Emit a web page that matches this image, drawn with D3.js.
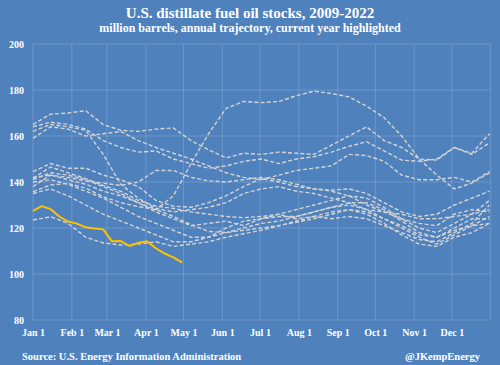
<!DOCTYPE html>
<html>
<head>
<meta charset="utf-8">
<script src="https://cdn.jsdelivr.net/npm/d3@7"></script>
<style>
  body { margin: 0; background: #4f81bd; }
  svg { display: block; }
  text { font-family: "Liberation Serif", "DejaVu Serif", serif; font-weight: bold; fill: #ffffff; }
</style>
</head>
<body>
<svg id="mainSvg" width="500" height="365"></svg>
<script>
// day of year for each sample (every two weeks)
const days = [0, 14, 28, 42, 56, 70, 84, 98, 112, 126, 140, 154, 168, 182, 196, 210, 224, 238, 252, 266, 280, 294, 308, 322, 336, 350, 364];

// past years, million barrels
const pastYears = [
    {year: 2010, values: [165, 169.5, 170, 171, 165, 162.5, 162, 163, 163.5, 158, 154, 150.5, 152.5, 152, 153, 152.5, 152, 156, 160, 164, 158, 155, 150, 149.5, 155, 152.5, 161]},
    {year: 2011, values: [164, 166, 165, 163, 158, 155, 153, 153.5, 150, 148, 146, 147, 149, 150, 148, 150, 151, 153, 155.5, 157.5, 153.5, 149.5, 149, 150, 155, 152, 157]},
    {year: 2021, values: [162, 165, 164, 162.5, 152, 139, 133, 128.5, 127, 128, 129, 131, 135, 137, 138, 136, 135, 133, 131, 128, 127, 126, 124, 124, 125, 126, 128]},
    {year: 2017, values: [159, 164, 163, 160, 161, 162, 158, 155, 152.5, 150, 147, 144, 142, 141, 143, 145, 146, 147, 152, 151.5, 149, 143, 141, 141, 142, 140, 144.5]},
    {year: 2020, values: [141, 144, 143, 141, 138, 135, 131, 128, 134, 148, 161, 172, 175, 174.5, 175, 177.5, 179.5, 178.5, 177, 173, 168, 160, 150, 143, 137, 139.5, 144]},
    {year: 2009, values: [144.5, 148, 146, 146, 143, 141, 138, 132, 129.5, 129, 131, 134, 138, 141.5, 140, 138, 137, 136.5, 137, 135, 131, 127, 125, 126, 130, 133, 136]},
    {year: 2019, values: [141.6, 146.5, 144, 141.5, 138.5, 136, 132, 129.5, 128.5, 127, 126, 125, 124.5, 125, 126, 128, 130, 132, 134, 133, 129, 124, 120, 118, 122, 126, 132]},
    {year: 2015, values: [138, 143, 142, 140.5, 139.5, 138.5, 140, 145, 145, 142, 140.5, 140, 141, 142, 141, 139, 137, 136, 134, 130, 127, 124, 122, 121, 126, 128, 127]},
    {year: 2018, values: [135.8, 138.7, 139.4, 137.3, 133.6, 131, 129.3, 128, 125, 121.5, 118.5, 118, 119, 120, 121, 122.5, 124, 126, 128, 127, 124, 121, 117, 116, 120, 124, 124]},
    {year: 2012, values: [140, 141, 139, 136, 133, 129, 125, 122, 119, 116, 116, 118, 120, 122, 123, 125, 127, 129, 131, 131, 128, 123, 118, 116, 119, 121, 125]},
    {year: 2013, values: [135, 137, 134, 130, 126, 123, 120, 117, 114, 114, 116, 120, 123, 124, 125, 125, 127, 129, 130, 128, 124, 120, 116, 113, 117, 121, 122]},
    {year: 2014, values: [123.5, 124.9, 122, 116, 113.5, 112.6, 113, 114, 112, 113, 114, 116, 117.5, 119, 121, 123, 125, 127, 128, 126, 122, 117, 113, 112, 116, 118, 122]},
    {year: 2016, values: [142, 143, 141, 139, 136, 134, 131, 127, 124, 121, 122, 123, 121, 124, 126, 124, 125, 124, 125, 124, 121, 118, 115, 114, 118, 122, 130]}
];

// current year, weekly
const currentDays = [0, 7, 14, 21, 28, 35, 42, 49, 56, 63, 70, 77, 84, 91, 98, 105, 112, 119];
const currentValues = [127.4, 129.5, 128.2, 125, 122.8, 121.9, 120.3, 119.8, 119.4, 114.2, 114.3, 112.2, 113.6, 114.2, 111.2, 108.9, 107.2, 104.9];

const monthDays = [0, 31, 59, 90, 120, 151, 181, 212, 243, 273, 304, 334];
const monthLabels = ["Jan 1", "Feb 1", "Mar 1", "Apr 1", "May 1", "Jun 1", "Jul 1", "Aug 1", "Sep 1", "Oct 1", "Nov 1", "Dec 1"];
const yTicks = [80, 100, 120, 140, 160, 180, 200];

let svg = d3.select('#mainSvg');
const plotLeft = 33, plotRight = 490.7, plotTop = 44, plotBottom = 320;

const x = d3.scaleLinear().domain([0, 365]).range([plotLeft, plotRight]);
const y = d3.scaleLinear().domain([80, 200]).range([plotBottom, plotTop]);

// title
svg.append("text")
    .text("U.S. distillate fuel oil stocks, 2009-2022")
    .attr("x", 250).attr("y", 18)
    .attr("text-anchor", "middle")
    .attr("font-size", "15px");
svg.append("text")
    .text("million barrels, annual trajectory, current year highlighted")
    .attr("x", 250).attr("y", 32)
    .attr("text-anchor", "middle")
    .attr("font-size", "12px");

// grid
const grid = svg.append("g").attr("stroke", "#ffffff").attr("stroke-opacity", 0.17).attr("stroke-width", 1);
grid.selectAll("line.h").data(yTicks).join("line")
    .attr("class", "h")
    .attr("x1", plotLeft).attr("x2", plotRight)
    .attr("y1", d => y(d)).attr("y2", d => y(d));
grid.selectAll("line.v").data(monthDays.concat([365])).join("line")
    .attr("class", "v")
    .attr("x1", d => x(d)).attr("x2", d => x(d))
    .attr("y1", plotTop).attr("y2", plotBottom);

// axes
const yAxis = svg.append("g")
    .attr("transform", `translate(${plotLeft},0)`)
    .call(d3.axisLeft(y).tickValues(yTicks).tickSize(0).tickPadding(9).tickFormat(d3.format("d")));
yAxis.select(".domain").remove();
yAxis.selectAll("text").attr("font-size", "10px").attr("fill", "#ffffff");

const xAxis = svg.append("g")
    .attr("transform", `translate(0,${plotBottom})`)
    .call(d3.axisBottom(x).tickValues(monthDays).tickSize(0).tickPadding(9).tickFormat((d, i) => monthLabels[i]));
xAxis.select(".domain").remove();
xAxis.selectAll("text").attr("font-size", "10px").attr("fill", "#ffffff");

// lines
const line = d3.line()
    .x(d => x(d[0]))
    .y(d => y(d[1]));

svg.append("g").selectAll("path").data(pastYears).join("path")
    .attr("d", d => line(d.values.map((v, i) => [days[i], v])))
    .attr("fill", "none")
    .attr("stroke", "#d4d4d4")
    .attr("stroke-width", 1.4)
    .attr("stroke-dasharray", "4,2.2");

svg.append("path")
    .attr("d", line(currentValues.map((v, i) => [currentDays[i], v])))
    .attr("fill", "none")
    .attr("stroke", "#ffc000")
    .attr("stroke-width", 2)
    .attr("stroke-linejoin", "round");

// footer
svg.append("text")
    .text("Source: U.S. Energy Information Administration")
    .attr("x", 22).attr("y", 360)
    .attr("font-size", "10.5px");
svg.append("text")
    .text("@JKempEnergy")
    .attr("x", 480).attr("y", 360)
    .attr("text-anchor", "end")
    .attr("font-size", "10.5px");
</script>
</body>
</html>
